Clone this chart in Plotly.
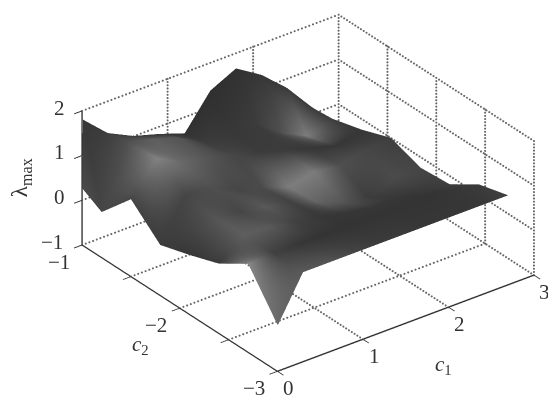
import plotly.graph_objects as go

# Surface samples
c1 = [0, 0.01, 0.3, 0.6, 0.9, 1.2, 1.5, 1.8, 2.1, 2.4, 2.7]
c2 = [-3, -2.7, -2.4, -2.1, -1.8, -1.5, -1.2, -1]
lam = [
    [0.04, 0.04, 1.00, 1.00, 1.00, 1.00, 1.00, 1.00, 1.00, 1.00, 1.00],
    [0.98, 0.98, 1.00, 1.00, 1.00, 1.00, 1.00, 1.00, 1.00, 0.95, 0.82],
    [0.56, 0.56, 0.98, 0.95, 0.84, 0.73, 0.63, 0.53, 0.54, 0.43, 0.40],
    [0.33, 0.33, 0.95, 0.86, 0.76, 0.64, 0.43, 0.22, 0.10, 0.34, 0.35],
    [0.13, 0.13, 1.04, 1.00, 0.71, 0.55, 0.35, 0.47, 0.40, 0.55, 0.59],
    [0.73, 0.73, 1.44, 1.13, 1.02, 0.87, 0.71, 0.53, 0.36, 0.21, 0.35],
    [0.02, 0.02, 1.36, 1.21, 1.04, 0.71, 0.83, 0.73, 0.29, 0.00, 0.17],
    [0.27, 1.80, 1.29, 1.01, 0.84, 0.64, 1.38, 1.66, 1.30, 0.79, 0.13],
]
shade = [
    [105, 105, 90, 85, 70, 60, 58, 55, 55, 55, 65],
    [135, 135, 65, 55, 52, 52, 52, 52, 52, 55, 58],
    [60, 60, 95, 90, 65, 55, 55, 55, 55, 55, 62],
    [55, 55, 85, 70, 90, 65, 100, 85, 60, 75, 70],
    [60, 60, 70, 80, 70, 75, 125, 125, 80, 70, 62],
    [70, 70, 130, 105, 85, 70, 60, 60, 55, 55, 55],
    [70, 70, 80, 95, 85, 60, 55, 60, 80, 125, 60],
    [75, 55, 60, 55, 52, 50, 48, 50, 55, 58, 55],
]

c1_ticks = [0, 1, 2, 3]
c1_labels = ["0", "1", "2", "3"]
c2_ticks = [-3, -2.5, -2, -1.5, -1]
c2_labels = ["\u22123", "", "\u22122", "", "\u22121"]
lam_ticks = [-1, 0, 1, 2]
lam_labels = ["\u22121", "0", "1", "2"]

fig = go.Figure()

# Dotted grid on the floor and the two back walls, drawn as rows of small dots
grid_x, grid_y, grid_z = [], [], []
def seg(a, b, n):
    for i in range(n + 1):
        grid_x.append(a[0] + (b[0] - a[0]) * i / n)
        grid_y.append(a[1] + (b[1] - a[1]) * i / n)
        grid_z.append(a[2] + (b[2] - a[2]) * i / n)

for t in c1_ticks:
    if t != 0:
        seg((t, -3, -1), (t, -1, -1), 70)
        seg((t, -1, -1), (t, -1, 2), 42)
for t in c2_ticks:
    if t != -3:
        seg((0, t, -1), (3, t, -1), 70)
    seg((3, t, -1), (3, t, 2), 42)
for t in lam_ticks:
    seg((0, -1, t), (3, -1, t), 70)
    if t != -1:
        seg((3, -1, t), (3, -3, t), 70)

fig.add_trace(go.Scatter3d(
    x=grid_x, y=grid_y, z=grid_z, mode="markers",
    marker=dict(color="#666666", size=1.2, line=dict(width=0)),
    hoverinfo="skip", showlegend=False,
))

fig.add_trace(go.Surface(
    x=c1, y=c2, z=lam, surfacecolor=shade,
    colorscale=[[0, "black"], [1, "white"]], cmin=0, cmax=255,
    showscale=False, hoverinfo="skip",
    lighting=dict(ambient=1, diffuse=0, specular=0, fresnel=0),
))

axis_style = dict(
    showgrid=False, zeroline=False, showbackground=False, showline=True,
    linecolor="#333333", linewidth=3, ticks="outside", ticklen=10, tickwidth=2,
    tickcolor="#333333", showticklabels=False, showspikes=False,
    title=dict(text=""),
)

# Tick labels and axis titles as horizontal text
def label(x, y, z, text, dx, dy, size=21, angle=0):
    return dict(x=x, y=y, z=z, text=text, showarrow=False, xshift=dx, yshift=dy,
                textangle=angle, font=dict(family="Liberation Serif", size=size, color="#333333"))

notes = []
for t, s in zip(c1_ticks, c1_labels):
    notes.append(label(t, -3, -1, s, 11, -17))
for t, s in zip(c2_ticks, c2_labels):
    if s:
        notes.append(label(0, t, -1, s, -24, -17))
for t, s in zip(lam_ticks, lam_labels):
    notes.append(label(0, -1, t, s, -23 if t >= 0 else -31, 3))
notes.append(label(2, -3, -1, "<i>c</i><sub>1</sub>", -5, -58, 21))
notes.append(label(0, -2, -1, "<i>c</i><sub>2</sub>", -40, -37, 21))
notes.append(label(0, -1, 0.5, "\u03bb<sub>max</sub>", -62, 0, 23, -90))

fig.update_layout(
    width=556, height=396,
    margin=dict(l=0, r=0, t=0, b=0),
    paper_bgcolor="white",
    font=dict(family="Liberation Serif", color="#333333"),
    scene=dict(
        domain=dict(x=[0.08, 1], y=[0.071, 0.996]),
        xaxis=dict(range=[0, 3], tickvals=c1_ticks, **axis_style),
        yaxis=dict(range=[-3, -1], tickvals=c2_ticks, **axis_style),
        zaxis=dict(range=[-1, 2], tickvals=lam_ticks, **axis_style),
        aspectmode="manual",
        aspectratio=dict(x=1.762, y=1.762, z=0.842),
        camera=dict(
            projection=dict(type="orthographic"),
            eye=dict(x=-1.054, y=-1.384, z=0.984),
            up=dict(x=0, y=0, z=1),
        ),
        annotations=notes,
    ),
)

fig.write_html("out.html")
